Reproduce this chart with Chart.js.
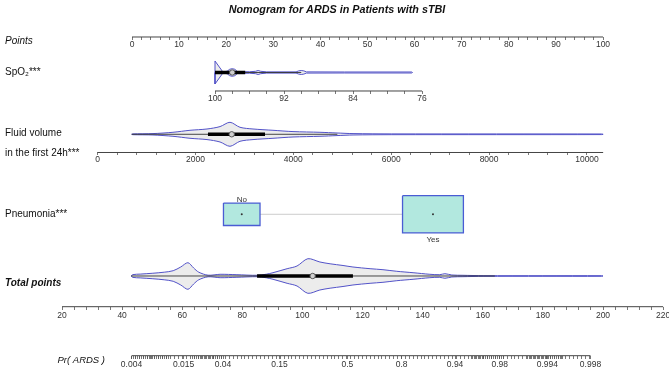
<!DOCTYPE html>
<html>
<head>
<meta charset="utf-8">
<script src="https://cdn.jsdelivr.net/npm/chart.js@4"></script>
<style>
  html, body { margin: 0; padding: 0; background: #fff; }
</style>
</head>
<body>
<canvas id="nomo" width="669" height="374"></canvas>
<script>
// ---- values ----
const chartTitle = "Nomogram for ARDS in Patients with sTBI";
const rowLabels = ["Points", "SpO\u2082***", "Fluid volume", "in the first 24h***", "Pneumonia***", "Total points"];
const probLabel = "Pr( ARDS )";

const pointsTicks = [0, 10, 20, 30, 40, 50, 60, 70, 80, 90, 100];
const spo2Ticks = [100, 92, 84, 76];
const fluidTicks = [0, 2000, 4000, 6000, 8000, 10000];
const totalTicks = [20, 40, 60, 80, 100, 120, 140, 160, 180, 200, 220];
const probTicks = [0.004, 0.015, 0.04, 0.15, 0.5, 0.8, 0.94, 0.98, 0.994, 0.998];

// violin outlines: value on the variable's own axis, half width
const spo2X = [100, 100, 99.1, 98.6, 98.3, 98.0, 97.7, 97.4, 96.0, 95.3, 95.0, 94.7, 94.0, 90.6, 90.3, 90.0, 89.7, 89.4, 85, 77.2, 77.1];
const spo2W = [0, 11.5, 0.7, 1.2, 3.2, 3.8, 3.2, 0.9, 0.7, 1.2, 2.0, 1.2, 0.6, 0.6, 1.6, 2.0, 1.6, 0.6, 0.5, 0.5, 0];
const spo2Whisker = [100, 90];
const spo2Iqr = [100, 96.5];
const spo2Median = 98;

const fluidX = [699, 720, 1134, 1542, 1890, 2237, 2503, 2707, 2911, 3177, 3585, 3994, 4545, 4893, 5220, 6000, 10300, 10330];
const fluidW = [0, 0.4, 0.7, 2, 4, 5.3, 7.7, 12, 7, 5.3, 4, 2.7, 2, 1.3, 0.7, 0.4, 0.3, 0];
const fluidWhisker = [699, 4900];
const fluidIqr = [2257, 3422];
const fluidMedian = 2742;
const fluidRange = [0, 10330];

const pneuLevels = ["No", "Yes"];
const pneuPoints = [23.3, 63.9];
const pneuShare = [0.265, 0.735];

const totalX = [43.0, 43.6, 46, 50, 54, 57, 59.5, 61.9, 63.8, 65.5, 68.6, 72.6, 78.2, 84.9, 88, 90.2, 94.9, 98.2, 101.8, 105.8, 109.2, 113.5, 116.8, 122.5, 126.8, 131.4, 136.8, 142.4, 145.7, 147.4, 149.7, 153.4, 160.1, 180, 199.5, 200];
const totalW = [0, 1.4, 1.9, 2.7, 3.8, 5.3, 9, 13.3, 8, 3.8, 0.8, 1.7, 1.3, 0.7, 1.8, 3.3, 7.3, 10, 17.3, 14, 12.2, 10.5, 9, 7.3, 6.3, 4.7, 3.3, 1.7, 1.3, 2.3, 1.0, 0.7, 0.35, 0.3, 0.3, 0];
const totalWhisker = [43.0, 164];
const totalIqr = [84.9, 116.8];
const totalMedian = 103.4;
const totalRange = [20, 220];

// ---- layout ----
const L = 5, R = 669, TOP = 20, BOTTOM = 374;
const FONT = "'Liberation Sans', Arial, Helvetica, sans-serif";
const Y_POINTS = 37, Y_SPO2 = 72.5, Y_SPO2_AXIS = 91, Y_FLUID = 134.3, Y_FLUID_AXIS = 152.5;
const Y_PNEU = 214.3, Y_NO = 192.5, Y_YES = 232.5, Y_TOTAL = 276, Y_TOTAL_AXIS = 306.7, Y_PROB = 355.7;
const ROW_LABEL_Y = [41, 72.5, 133, 153.3, 214.3, 283.3];
const PROB_LABEL_Y = 360;
const BOX_W = 71, BOX_H = 43.5;
const VIOLIN_LINE = "#5252c8", VIOLIN_FILL = "#ececec";

const logit = p => Math.log(p / (1 - p));

// min/max so that value v0 lands on pixel p0 and v1 on p1
function span(v0, p0, v1, p1) {
  const k = (v1 - v0) / (p1 - p0);
  const a = v0 + (L - p0) * k, b = v0 + (R - p0) * k;
  return k > 0 ? { min: a, max: b, reverse: false } : { min: b, max: a, reverse: true };
}
const spPoints = span(0, 132, 100, 603);
const spSpo2 = span(100, 215, 76, 422);
const spFluid = span(0, 97.5, 10000, 587);
const spTotal = span(20, 62, 200, 603);
const spProb = span(logit(0.004), 131.5, logit(0.998), 590.5);
const PX_PER_POINT = (603 - 132) / 100;

function steps(lo, hi, step, skip) {
  const out = [];
  for (let v = lo; v <= hi + 1e-9; v += step) {
    const r = +v.toFixed(6);
    if (!skip.some(s => Math.abs(s - r) < 1e-6)) out.push(r);
  }
  return out;
}

const zeroPad = s => { s.paddingLeft = s.paddingRight = s.paddingTop = s.paddingBottom = 0; };

function nomoAxis(sp, yPos, major, minor, fmt, opts = {}) {
  const values = major.concat(minor);
  return {
    type: "linear", axis: "x", position: { y: yPos },
    min: sp.min, max: sp.max, reverse: sp.reverse, bounds: "data",
    grid: { display: !opts.noTicks, drawOnChartArea: false, drawTicks: true, tickLength: 3, tickColor: "#555", tickWidth: 0.8 },
    border: { display: false },
    ticks: {
      autoSkip: false, maxRotation: 0, padding: opts.padding || 0, color: "#333",
      font: { family: FONT, size: opts.size || 8.5, lineHeight: 1 },
      callback: (v, i) => (i < major.length ? fmt(major[i], i) : "")
    },
    afterBuildTicks: s => { s.ticks = values.map(v => ({ value: v })); },
    afterFit: zeroPad
  };
}

// ---- datasets ----
const datasets = [];
function lineDs(xAxisID, pts, style) {
  datasets.push(Object.assign({
    type: "line", xAxisID, yAxisID: "y", data: pts,
    pointRadius: 0, pointHoverRadius: 0, fill: false, tension: 0,
    borderWidth: 1, borderColor: "#444", order: 5
  }, style));
}
function violin(xAxisID, xs, ws, yc, tension) {
  lineDs(xAxisID, xs.map((x, i) => ({ x, y: yc - ws[i] })), { borderColor: VIOLIN_LINE, tension, order: 7 });
  lineDs(xAxisID, xs.map((x, i) => ({ x, y: yc + ws[i] })), { borderColor: VIOLIN_LINE, tension, order: 7, fill: "-1", backgroundColor: VIOLIN_FILL });
}
function boxplot(xAxisID, whisker, iqr, median, yc) {
  lineDs(xAxisID, whisker.map(x => ({ x, y: yc })), { borderColor: "#333", borderWidth: 0.9, order: 4 });
  lineDs(xAxisID, iqr.map(x => ({ x, y: yc })), { borderColor: "#000", borderWidth: 3.5, borderCapStyle: "butt", order: 3 });
  lineDs(xAxisID, [{ x: median, y: yc }], {
    showLine: false, pointRadius: 2.7, pointHoverRadius: 2.7, pointStyle: "circle",
    pointBackgroundColor: "#cfcfcf", pointBorderColor: "#555", pointBorderWidth: 1, order: 2
  });
}

// axis lines
lineDs("x", [{ x: 0, y: Y_POINTS }, { x: 100, y: Y_POINTS }], {});
lineDs("xSpo2", [{ x: spo2Ticks[0], y: Y_SPO2_AXIS }, { x: spo2Ticks[spo2Ticks.length - 1], y: Y_SPO2_AXIS }], {});
lineDs("xFluid", fluidRange.map(x => ({ x, y: Y_FLUID_AXIS })), {});
lineDs("xTotal", totalRange.map(x => ({ x, y: Y_TOTAL_AXIS })), {});
lineDs("xProb", [probTicks[0], probTicks[probTicks.length - 1]].map(p => ({ x: logit(p), y: Y_PROB })), {});

// SpO2
violin("xSpo2", spo2X, spo2W, Y_SPO2, 0);
boxplot("xSpo2", spo2Whisker, spo2Iqr, spo2Median, Y_SPO2);

// Fluid volume
violin("xFluid", fluidX, fluidW, Y_FLUID, 0.3);
boxplot("xFluid", fluidWhisker, fluidIqr, fluidMedian, Y_FLUID);

// Pneumonia boxes
lineDs("x", pneuPoints.map(x => ({ x, y: Y_PNEU })), { borderColor: "#cccccc", order: 9 });
pneuPoints.forEach((c, i) => {
  const hw = BOX_W * Math.sqrt(pneuShare[i]) / 2 / PX_PER_POINT;
  const hh = BOX_H * Math.sqrt(pneuShare[i]) / 2;
  lineDs("x", [{ x: c - hw, y: Y_PNEU - hh }, { x: c + hw, y: Y_PNEU - hh }], {
    borderWidth: 0, fill: { value: Y_PNEU + hh }, backgroundColor: "#b2e8df", order: 8
  });
  lineDs("x", [
    { x: c - hw, y: Y_PNEU - hh }, { x: c + hw, y: Y_PNEU - hh }, { x: c + hw, y: Y_PNEU + hh },
    { x: c - hw, y: Y_PNEU + hh }, { x: c - hw, y: Y_PNEU - hh }
  ], { borderColor: "#4a5cd4", borderWidth: 1.3, order: 3 });
});
lineDs("x", pneuPoints.map(x => ({ x, y: Y_PNEU })), {
  showLine: false, pointRadius: 1, pointBackgroundColor: "#333", pointBorderWidth: 0, order: 1
});

// Total points
violin("xTotal", totalX, totalW, Y_TOTAL, 0.3);
boxplot("xTotal", totalWhisker, totalIqr, totalMedian, Y_TOTAL);

// ---- scales ----
const probMajor = probTicks.map(logit);
const probMinor = steps(logit(0.004), logit(0.998), 0.1, [])
  .concat(steps(-5.52, -4.57, 0.05, []), steps(-3.96, -3.17, 0.05, []), steps(3.19, 3.99, 0.05, []), steps(4.6, 5.52, 0.05, []));

const rowFonts = [
  { family: FONT, size: 10, style: "italic" },
  { family: FONT, size: 10 },
  { family: FONT, size: 10 },
  { family: FONT, size: 10 },
  { family: FONT, size: 10 },
  { family: FONT, size: 10, style: "italic", weight: "bold" }
];

const scales = {
  y: {
    type: "linear", position: "left", min: TOP, max: BOTTOM, reverse: true, bounds: "data",
    grid: { display: false }, border: { display: false },
    ticks: {
      mirror: true, crossAlign: "near", padding: 0, autoSkip: false, color: "#111",
      font: c => rowFonts[c.index] || rowFonts[1],
      callback: (v, i) => rowLabels[i]
    },
    afterBuildTicks: s => { s.ticks = ROW_LABEL_Y.map(v => ({ value: v })); },
    afterFit: s => { s.width = 0; zeroPad(s); }
  },
  yProb: {
    type: "linear", axis: "y", position: { x: (105 - 132) / PX_PER_POINT }, min: TOP, max: BOTTOM, reverse: true, bounds: "data",
    grid: { display: false }, border: { display: false },
    ticks: { padding: 0, autoSkip: false, color: "#111", font: { family: FONT, size: 9.5, style: "italic" }, callback: () => probLabel },
    afterBuildTicks: s => { s.ticks = [{ value: PROB_LABEL_Y }]; },
    afterFit: zeroPad
  },
  x: nomoAxis(spPoints, Y_POINTS, pointsTicks, steps(0, 100, 2, pointsTicks), v => String(v)),
  xSpo2: nomoAxis(spSpo2, Y_SPO2_AXIS, spo2Ticks, steps(76, 100, 2, spo2Ticks), v => String(v)),
  xFluid: nomoAxis(spFluid, Y_FLUID_AXIS, fluidTicks, steps(0, 10000, 400, fluidTicks), v => String(v)),
  xTotal: nomoAxis(spTotal, Y_TOTAL_AXIS, totalTicks, steps(20, 220, 4, totalTicks), v => String(v), { padding: 2 }),
  xProb: nomoAxis(spProb, Y_PROB, probMajor, probMinor, (v, i) => String(probTicks[i]), { padding: 1.5 }),
  xNo: nomoAxis(spPoints, Y_NO, [pneuPoints[0]], [], () => pneuLevels[0], { noTicks: true, size: 8 }),
  xYes: nomoAxis(spPoints, Y_YES, [pneuPoints[1]], [], () => pneuLevels[1], { noTicks: true, size: 8 })
};

new Chart(document.getElementById("nomo"), {
  type: "line",
  data: { datasets },
  options: {
    responsive: false,
    devicePixelRatio: 1,
    animation: false,
    layout: { autoPadding: false, padding: { left: L, top: 0, right: 0, bottom: 0 } },
    plugins: {
      legend: { display: false },
      tooltip: { enabled: false },
      title: {
        display: true, text: chartTitle, color: "#111",
        font: { family: FONT, size: 10.8, weight: "bold", style: "italic", lineHeight: 1.11 },
        padding: { top: 4, bottom: 4 }
      }
    },
    scales
  }
});
</script>
</body>
</html>
